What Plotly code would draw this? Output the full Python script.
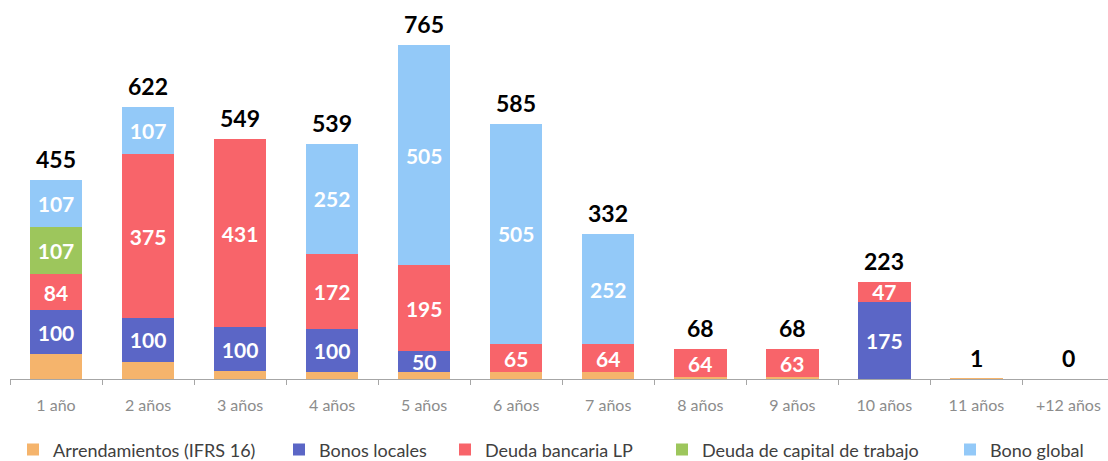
import plotly.graph_objects as go

categories = ["1 año", "2 años", "3 años", "4 años", "5 años", "6 años",
              "7 años", "8 años", "9 años", "10 años", "11 años", "+12 años"]

arrendamientos = [57, 40, 18, 15, 15, 15, 16, 4, 5, 1, 1, 0]
bonos_locales = [100, 100, 100, 100, 50, 0, 0, 0, 0, 175, 0, 0]
deuda_bancaria = [84, 375, 431, 172, 195, 65, 64, 64, 63, 47, 0, 0]
deuda_capital = [107, 0, 0, 0, 0, 0, 0, 0, 0, 0, 0, 0]
bono_global = [107, 107, 0, 252, 505, 505, 252, 0, 0, 0, 0, 0]
totales = [455, 622, 549, 539, 765, 585, 332, 68, 68, 223, 1, 0]

series = [
    ("Arrendamientos (IFRS 16)", arrendamientos, "#F5B46C", False),
    ("Bonos locales", bonos_locales, "#5B66C6", True),
    ("Deuda bancaria LP", deuda_bancaria, "#F8646A", True),
    ("Deuda de capital de trabajo", deuda_capital, "#9DC65C", True),
    ("Bono global", bono_global, "#93C9F8", True),
]

# legend item left positions (pixels)
legend_px = [13, 279, 445, 662, 950]

FONT = "Lato, 'Open Sans', sans-serif"
PLOT_L, PLOT_W = 10, 1098

fig = go.Figure()
legend_layout = {}
for i, (name, vals, color, labelled) in enumerate(series):
    texts = [str(v) if (labelled and v > 0) else "" for v in vals]
    lg = "legend" if i == 0 else f"legend{i+1}"
    fig.add_trace(go.Bar(
        name=name, x=categories, y=vals, marker=dict(color=color, line=dict(width=0)),
        text=texts, texttemplate="%{text}", textposition="inside",
        insidetextanchor="middle", textangle=0, constraintext="none",
        textfont=dict(color="white", size=21, family=FONT, weight="bold"),
        hoverinfo="name+y", legend=lg,
    ))
    legend_layout[lg] = dict(
        orientation="h", x=(legend_px[i] - PLOT_L) / PLOT_W, xanchor="left",
        y=-0.187, yanchor="middle",
        font=dict(size=18, color="#404040", family=FONT),
        bgcolor="rgba(0,0,0,0)",
    )

for cat, tot in zip(categories, totales):
    fig.add_annotation(
        x=cat, y=tot, text=str(tot), showarrow=False,
        xanchor="center", yanchor="bottom", yshift=5,
        font=dict(color="black", size=23, family=FONT, weight="bold"),
    )

fig.update_layout(
    width=1108, height=461,
    barmode="stack", bargap=0.43,
    plot_bgcolor="white", paper_bgcolor="white",
    margin=dict(l=PLOT_L, r=0, t=0, b=82, autoexpand=False),
    uniformtext=dict(minsize=21, mode="show"),
    font=dict(family=FONT),
    showlegend=True,
    xaxis=dict(
        showline=True, linecolor="#a6a6a6", linewidth=1,
        ticks="outside", tickson="boundaries", ticklen=5, tickcolor="#a6a6a6",
        tickfont=dict(color="#8c8c8c", size=16, family=FONT),
        ticklabelstandoff=12, automargin=False,
        range=[-0.5, 11.43], showgrid=False,
    ),
    yaxis=dict(visible=False, range=[0, 868], showgrid=False, zeroline=False,
               automargin=False),
    **legend_layout,
)

fig.write_html("out.html", config={"displayModeBar": False},
               post_script="document.body.style.margin='0';")
